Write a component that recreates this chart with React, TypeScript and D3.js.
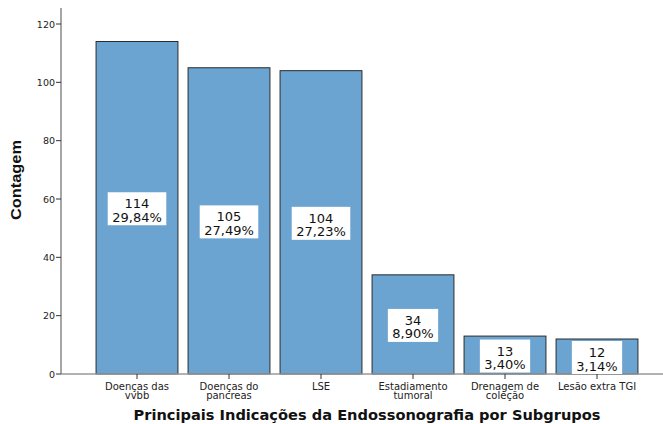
import React from "react";
import * as d3 from "d3";

const categories = [
  ["Doenças das", "vvbb"],
  ["Doenças do", "pancreas"],
  ["LSE"],
  ["Estadiamento", "tumoral"],
  ["Drenagem de", "coleção"],
  ["Lesão extra TGI"],
];
const counts = [114, 105, 104, 34, 13, 12];
const percents = ["29,84%", "27,49%", "27,23%", "8,90%", "3,40%", "3,14%"];
const yTicks = [0, 20, 40, 60, 80, 100, 120];

const W = 663;
const H = 424;
const FONT = "'DejaVu Sans', Verdana, sans-serif";

let ctx: CanvasRenderingContext2D | null = null;
function measure(text: string, font: string) {
  if (!ctx) ctx = document.createElement("canvas").getContext("2d");
  if (!ctx) return text.length * 8;
  ctx.font = font;
  return ctx.measureText(text).width;
}

export default function App() {
  const x = d3
    .scaleBand<number>()
    .domain(d3.range(counts.length))
    .range([91, 643])
    .paddingInner(0.11)
    .paddingOuter(0.055);
  const y = d3.scaleLinear().domain([0, 120]).range([374, 24]);
  const axisX = 61;
  const LF = 13;

  return (
    <svg width={W} height={H} style={{ position: "absolute", left: 0, top: 0, background: "#fff" }}>
      {counts.map((c, i) => (
        <rect
          key={"b" + i}
          x={x(i)!}
          y={y(c)}
          width={x.bandwidth()}
          height={y(0) - y(c)}
          fill="#6ba3d1"
          stroke="#2b2b2b"
          strokeWidth={1}
        />
      ))}
      <line x1={axisX} x2={W} y1={y(0)} y2={y(0)} stroke="#999" strokeWidth={1.5} />
      {counts.map((_, i) => {
        const cx = x(i)! + x.bandwidth() / 2;
        return <line key={"xt" + i} x1={cx} x2={cx} y1={y(0)} y2={y(0) + 5} stroke="#333" strokeWidth={1} />;
      })}
      {counts.map((c, i) => {
        const cx = x(i)! + x.bandwidth() / 2;
        const cy = (y(c) + y(0)) / 2;
        const f = `${LF}px ${FONT}`;
        const w = Math.max(measure(String(c), f), measure(percents[i], f)) + 9;
        const h = 33;
        return (
          <g key={"l" + i}>
            <rect x={cx - w / 2} y={cy - h / 2 + 1} width={w} height={h} fill="#fff" />
            <text x={cx} y={cy + 0.5} textAnchor="middle" fontFamily={FONT} fontSize={LF} fill="#111">
              {c}
            </text>
            <text x={cx} y={cy + 14} textAnchor="middle" fontFamily={FONT} fontSize={LF} fill="#111">
              {percents[i]}
            </text>
          </g>
        );
      })}
      <line x1={axisX} x2={axisX} y1={8} y2={y(0)} stroke="#888" strokeWidth={1.5} />
      {yTicks.map((t) => (
        <g key={"yt" + t}>
          <line x1={axisX - 5} x2={axisX} y1={y(t)} y2={y(t)} stroke="#333" strokeWidth={1} />
          <text x={axisX - 6} y={y(t) + 3.5} textAnchor="end" fontFamily={FONT} fontSize={9.5} fill="#222">
            {t}
          </text>
        </g>
      ))}
      {categories.map((lines, i) => {
        const cx = x(i)! + x.bandwidth() / 2;
        return (
          <text key={"c" + i} textAnchor="middle" fontFamily={FONT} fontSize={10} fill="#222">
            {lines.map((ln, j) => (
              <tspan key={j} x={cx} y={389.5 + j * 9.5}>
                {ln}
              </tspan>
            ))}
          </text>
        );
      })}
      <text
        x={367}
        y={420}
        textAnchor="middle"
        fontFamily={FONT}
        fontWeight="bold"
        fontSize={14}
        textLength={467}
        lengthAdjust="spacingAndGlyphs"
        fill="#111"
      >
        Principais Indicações da Endossonografia por Subgrupos
      </text>
      <text
        transform={`translate(21,180) rotate(-90)`}
        textAnchor="middle"
        fontFamily="'Liberation Sans', Arial, sans-serif"
        fontWeight="bold"
        fontSize={15}
        textLength={80}
        lengthAdjust="spacingAndGlyphs"
        fill="#111"
      >
        Contagem
      </text>
    </svg>
  );
}
